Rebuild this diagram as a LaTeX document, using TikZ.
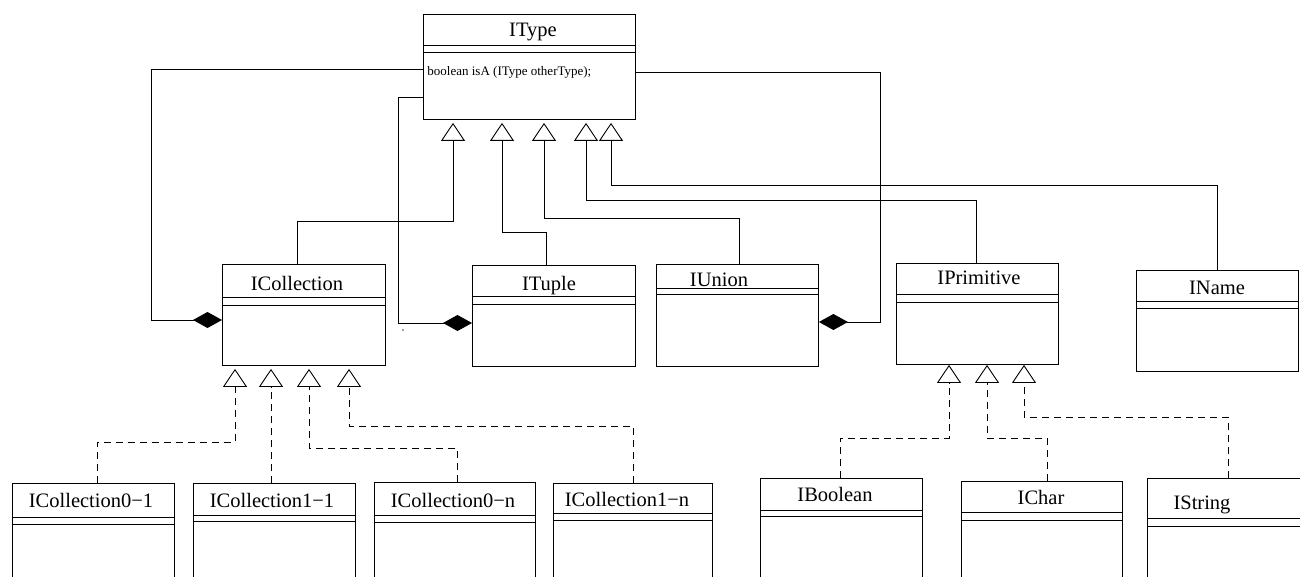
\documentclass[tikz,border=0pt]{standalone}
\usepackage{fontspec}
\setmainfont{Liberation Serif}
\usetikzlibrary{arrows.meta}

\begin{document}
\begin{tikzpicture}[x=1pt, y=-1pt, line width=0.9pt,
    cls/.style={draw, rectangle, anchor=north west, inner sep=0pt, minimum height=101pt},
    clsname/.style={anchor=base, inner sep=0pt, font=\fontsize{20.5}{24}\selectfont},
    gen/.style={-{Triangle[open, length=18pt, width=24pt]}, shorten >=3pt},
    realize/.style={gen, dash pattern=on 7pt off 5pt},
    comp/.style={{Diamond[length=29pt, width=16pt]}-}]
\useasboundingbox (0,0) rectangle (1300,577);
\clip (0,0) rectangle (1300,577);

\node[cls, minimum width=212pt, minimum height=105pt] (itype) at (423,14) {};
\node[cls, minimum width=163pt] (icoll) at (222,264) {};
\node[cls, minimum width=163pt] (ituple) at (472,265) {};
\node[cls, minimum width=162pt, minimum height=102pt] (iunion) at (656,264) {};
\node[cls, minimum width=162pt] (iprim) at (896,263) {};
\node[cls, minimum width=162pt] (iname) at (1136,270) {};
\node[cls, minimum width=162pt, minimum height=130pt] (icoll01) at (12,483) {};
\node[cls, minimum width=162pt, minimum height=130pt] (icoll11) at (193,483) {};
\node[cls, minimum width=161pt, minimum height=130pt] (icoll0n) at (374,482) {};
\node[cls, minimum width=159pt, minimum height=130pt] (icoll1n) at (553,483) {};
\node[cls, minimum width=162pt, minimum height=130pt] (ibool) at (760,478) {};
\node[cls, minimum width=161pt, minimum height=130pt] (ichar) at (961,481) {};
\node[cls, minimum width=170pt, minimum height=130pt] (istring) at (1147,478) {};

\foreach \n/\a/\b in {itype/31/38, icoll/33/41, ituple/31/39, iunion/24/30,
    iprim/31/39, iname/31/38, icoll01/34/41, icoll11/32/38, icoll0n/33/40,
    icoll1n/30/37, ibool/32/38, ichar/31/39, istring/40/48}
  \draw ([yshift=-\a pt]\n.north west) -- ([yshift=-\a pt]\n.north east)
        ([yshift=-\b pt]\n.north west) -- ([yshift=-\b pt]\n.north east);

\node[clsname] (itype-t) at (533,37) {IType};
\node[anchor=base west, inner sep=0pt, font=\fontsize{13}{15}\selectfont] (itype-m) at (427,76) {boolean isA (IType otherType);};
\node[clsname] (icoll-t) at (297,290) {ICollection};
\node[clsname] (ituple-t) at (549,290) {ITuple};
\node[clsname] (iunion-t) at (719,286) {IUnion};
\node[clsname] (iprim-t) at (979,284) {IPrimitive};
\node[clsname] (iname-t) at (1217,294) {IName};
\node[clsname] (icoll01-t) at (91,507) {ICollection0−1};
\node[clsname] (icoll11-t) at (272,507) {ICollection1−1};
\node[clsname] (icoll0n-t) at (453,507) {ICollection0−n};
\node[clsname] (icoll1n-t) at (627,506) {ICollection1−n};
\node[clsname] (ibool-t) at (835,501) {IBoolean};
\node[clsname] (ichar-t) at (1041,504) {IChar};
\node[clsname] (istring-t) at (1202,509) {IString};

\draw[gen] (icoll.north -| 297,0) |- (453,221) -- (itype.south -| 453,0);
\draw[gen] (ituple.north -| 546,0) |- (502,232) -- (itype.south -| 502,0);
\draw[gen] (iunion.north -| 739,0) |- (544,218) -- (itype.south -| 544,0);
\draw[gen] (iprim.north -| 976,0) |- (586,200) -- (itype.south -| 586,0);
\draw[gen] (iname.north) |- (611,185) -- (itype.south -| 611,0);

\draw[comp] (icoll.west |- 0,320) -| (151,69) -- (itype.west |- 0,69);
\draw[comp] (ituple.west |- 0,323) -| (398,97) -- (itype.west |- 0,97);
\draw[comp] (iunion.east |- 0,322) -| (880,72) -- (itype.east |- 0,72);
\fill[gray] (403,330) circle (1.2pt);

\draw[realize] (icoll01.north -| 97,0) |- (235,442) -- (icoll.south -| 235,0);
\draw[realize] (icoll11.north -| 271,0) -- (icoll.south -| 271,0);
\draw[realize] (icoll0n.north -| 457,0) |- (309,448) -- (icoll.south -| 309,0);
\draw[realize] (icoll1n.north -| 633,0) |- (349,426) -- (icoll.south -| 349,0);

\draw[realize, shorten >=0pt] (ibool.north -| 840,0) |- (949,438) -- (iprim.south -| 949,0);
\draw[realize, shorten >=0pt] (ichar.north -| 1047,0) |- (987,438) -- (iprim.south -| 987,0);
\draw[realize, shorten >=0pt] (istring.north -| 1228,0) |- (1024,417) -- (iprim.south -| 1024,0);
\end{tikzpicture}
\end{document}
